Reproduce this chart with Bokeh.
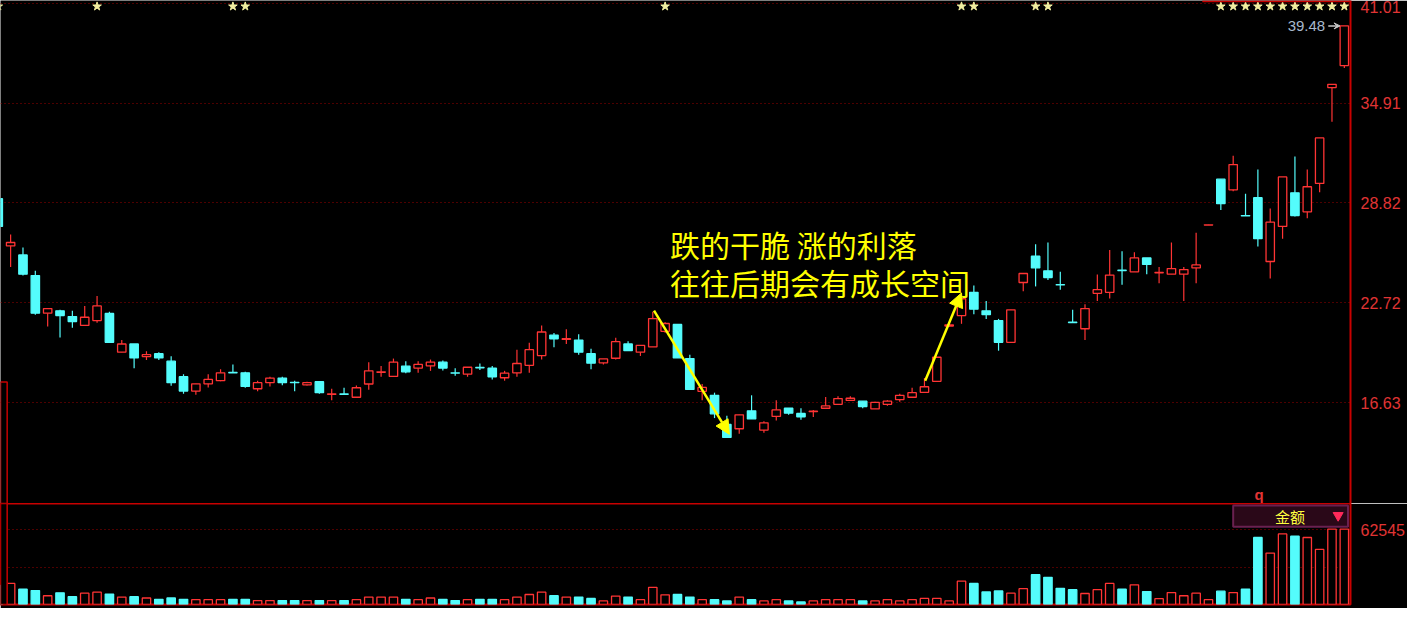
import numpy as np
from bokeh.plotting import figure
from bokeh.layouts import column
from bokeh.models import (FixedTicker, PrintfTickFormatter, Range1d, Arrow,
                          NormalHead, VeeHead, Label, ColumnDataSource)
from bokeh.embed import file_html
from bokeh.resources import INLINE

# ---------------- data ----------------
opens = [29.08, 26.20, 25.65, 24.39, 22.10, 22.24, 21.89, 21.35, 21.65, 22.08,
         19.72, 20.22, 19.45, 19.63, 19.17, 18.22, 17.35, 17.79, 17.98, 18.48,
         18.46, 17.49, 17.86, 18.14, 17.88, 17.73, 17.92, 17.15, 17.17, 16.97,
         17.78, 18.49, 18.24, 18.87, 18.75, 18.89, 19.11, 18.46, 18.38, 18.79,
         18.74, 18.16, 18.46, 18.92, 19.51, 20.76, 20.50, 20.46, 19.63, 19.07,
         19.35, 20.22, 19.72, 20.04, 20.99, 21.41, 19.33, 17.33, 17.09, 15.31,
         15.05, 16.14, 14.97, 15.80, 16.30, 15.98, 16.10, 16.30, 16.54, 16.78,
         16.73, 16.26, 16.54, 16.83, 16.97, 17.27, 17.94, 21.31, 21.95, 23.37,
         22.24, 21.65, 20.32, 23.97, 25.57, 24.68, 23.84, 21.55, 21.15, 23.31,
         23.37, 24.72, 24.62, 25.47, 24.56, 24.48, 24.48, 24.86, 27.47, 30.27,
         29.62, 28.05, 29.14, 25.25, 27.39, 29.44, 28.28, 30.01, 35.86, 37.20]
highs = [29.30, 26.90, 26.11, 24.68, 22.38, 22.30, 22.24, 22.54, 23.14, 22.19,
         20.46, 20.22, 19.77, 19.71, 19.47, 18.38, 17.79, 18.38, 18.68, 18.97,
         18.52, 17.98, 18.22, 18.22, 17.98, 17.92, 17.92, 17.49, 17.55, 17.69,
         19.11, 18.87, 19.33, 19.17, 19.17, 19.27, 19.21, 18.74, 18.80, 19.03,
         18.87, 18.58, 19.87, 20.30, 21.35, 20.89, 21.12, 20.82, 19.93, 19.31,
         20.60, 20.38, 20.14, 22.19, 21.55, 21.41, 19.57, 17.78, 17.25, 15.84,
         15.90, 17.09, 15.50, 16.79, 16.30, 16.30, 16.20, 16.99, 17.03, 17.03,
         16.73, 16.70, 16.79, 17.19, 17.55, 18.14, 19.41, 21.45, 23.20, 23.79,
         22.84, 21.75, 22.30, 24.52, 26.31, 26.41, 24.62, 22.30, 22.64, 24.46,
         25.95, 25.87, 25.81, 25.47, 24.92, 26.41, 24.92, 27.00, 27.49, 30.27,
         31.70, 29.38, 30.86, 28.49, 30.41, 31.66, 30.86, 32.79, 36.06, 39.62]
lows = [27.20, 24.92, 24.39, 22.01, 21.29, 20.62, 21.21, 21.35, 21.51, 20.32,
        19.72, 18.74, 19.25, 19.25, 17.67, 17.19, 17.13, 17.57, 17.94, 18.46,
        17.55, 17.33, 17.63, 17.70, 17.33, 17.69, 17.19, 16.79, 17.15, 16.97,
        17.43, 18.22, 18.24, 18.44, 18.46, 18.58, 18.60, 18.28, 18.22, 18.64,
        18.06, 17.98, 18.22, 18.46, 19.27, 20.02, 20.22, 19.57, 18.68, 18.97,
        19.27, 19.81, 19.49, 20.04, 20.91, 19.37, 17.45, 16.79, 15.70, 14.52,
        14.75, 15.65, 14.81, 15.56, 15.90, 15.60, 15.76, 16.30, 16.54, 16.78,
        16.30, 16.26, 16.45, 16.69, 16.97, 17.27, 17.94, 21.25, 21.45, 22.04,
        21.75, 19.81, 20.32, 23.43, 23.73, 24.12, 23.53, 21.53, 20.46, 22.84,
        22.99, 23.83, 24.62, 24.48, 23.93, 24.48, 22.84, 23.93, 27.47, 28.39,
        29.53, 28.03, 26.17, 24.22, 26.64, 28.00, 27.89, 29.47, 33.78, 37.05]
closes = [27.39, 26.41, 24.48, 22.10, 22.38, 21.95, 21.59, 21.85, 22.54, 20.32,
          20.22, 19.37, 19.57, 19.37, 17.86, 17.35, 17.79, 18.06, 18.46, 18.46,
          17.63, 17.86, 18.14, 17.86, 17.86, 17.86, 17.25, 17.17, 17.15, 17.55,
          18.58, 18.52, 19.11, 18.52, 18.97, 19.11, 18.75, 18.44, 18.80, 18.77,
          18.22, 18.44, 19.03, 19.87, 20.95, 20.54, 20.54, 19.72, 19.05, 19.31,
          20.36, 19.81, 20.14, 21.77, 21.47, 19.37, 17.45, 17.57, 15.96, 14.52,
          15.90, 15.65, 15.41, 16.20, 16.00, 15.78, 16.12, 16.44, 16.89, 16.91,
          16.40, 16.66, 16.73, 17.09, 17.25, 17.61, 19.41, 21.39, 22.98, 22.34,
          22.01, 20.32, 22.30, 24.52, 24.86, 24.27, 23.82, 21.53, 22.38, 23.53,
          24.42, 24.70, 25.47, 25.07, 24.58, 24.82, 24.76, 25.04, 27.49, 28.78,
          31.16, 28.03, 26.64, 27.65, 30.41, 28.05, 29.81, 32.79, 36.06, 39.62]
volumes = [16000, 17600, 12750, 11610, 7310, 9740, 6500, 9500, 10310, 8690,
           6250, 6500, 5440, 4300, 5440, 4300, 4060, 4060, 4060, 4300,
           4300, 3250, 3250, 3250, 3250, 3250, 3250, 3250, 3250, 4060,
           6250, 6250, 6250, 4300, 4060, 5440, 4300, 3250, 4060, 4300,
           4300, 4060, 6250, 8360, 10310, 7310, 6250, 6250, 5120, 3000,
           7060, 6250, 4060, 14370, 8120, 8360, 6250, 4060, 4060, 3000,
           6250, 4060, 3000, 4060, 3000, 2190, 3000, 4060, 4060, 4060,
           3000, 3000, 4060, 3000, 4060, 5120, 5120, 3000, 19490, 17620,
           10560, 11370, 9500, 13240, 24930, 22740, 13560, 12420, 9180, 12420,
           17620, 12750, 16480, 10800, 4870, 9990, 7310, 9500, 4060, 11120,
           9990, 12750, 56030, 43040, 59030, 57080, 56030, 46040, 63090, 63090]
price_ticks = [16.63, 22.72, 28.82, 34.91, 41.01]
vol_ticks = [31272, 62545]
vol_label_ticks = [62545]
star_idx = [0, 8, 19, 20, 54, 78, 79, 84, 85, 99, 100, 101, 102, 103, 104,
            105, 106, 107, 108, 109]
last_price_text = "39.48"
note_lines = ["跌的干脆  涨的利落", "往往后期会有成长空间"]
note_pos = [(54.4, 26.31), (54.4, 23.99)]
arrow_down = (53.1, 22.26, 59.2, 14.71)
arrow_up = (75.06, 17.98, 78.0, 23.33)
panel_title = "金额"
panel_marker = "q"

# ---------------- styles ----------------
RED = "#ff3434"
CYAN = "#54fcfc"
GRID = "#9a0000"
AXIS = "#c80000"
LBL = "#e03434"
YEL = "#ffff00"

idx = np.arange(len(opens))
o = np.array(opens); c = np.array(closes)
up = c >= o
line_col = [RED if u else CYAN for u in up]
fill_col = ["black" if u else CYAN for u in up]
src = ColumnDataSource(dict(x=idx, top=np.maximum(o, c), bottom=np.minimum(o, c),
                            high=highs, low=lows, vol=volumes,
                            lc=line_col, fc=fill_col))

XR = Range1d(0.18, 109.5)

p = figure(width=1407, height=503, x_range=XR, y_range=Range1d(10.49, 41.17),
           output_backend="svg", toolbar_location=None, y_axis_location="right",
           background_fill_color="black", border_fill_color="black",
           min_border_left=0, min_border_right=55, min_border_top=0,
           min_border_bottom=0)
p.outline_line_color = None
p.xaxis.visible = False
p.xgrid.visible = False
p.ygrid.ticker = FixedTicker(ticks=price_ticks)
p.ygrid.grid_line_color = GRID
p.ygrid.grid_line_dash = "1 3"
p.yaxis.ticker = FixedTicker(ticks=price_ticks)
p.yaxis.formatter = PrintfTickFormatter(format="%.2f")
p.yaxis.axis_line_color = AXIS
p.yaxis.axis_line_width = 2
p.yaxis.major_tick_line_color = None
p.yaxis.minor_tick_line_color = None
p.yaxis.major_label_text_color = LBL
p.yaxis.major_label_text_font = "Liberation Sans"
p.yaxis.major_label_text_font_size = "16px"
p.yaxis.major_label_standoff = 4

p.segment(x0="x", y0="low", x1="x", y1="high", line_color="lc", line_width=1.2, source=src)
p.vbar(x="x", width=0.68, top="top", bottom="bottom", fill_color="fc",
       line_color="lc", line_width=1.3, source=src)

# stars row
p.scatter(x=star_idx, y=[40.81] * len(star_idx), marker="star", size=9,
          fill_color="#f2eea0", line_color="#f2eea0")
# top-right red line
p.segment(x0=[97.5], y0=[41.13], x1=[109.5], y1=[41.13], line_color=AXIS, line_width=2)
# left box
p.quad(left=[0.18], right=[0.72], bottom=[10.49], top=[17.90], fill_color="black",
       line_color=AXIS, line_width=1.5)

for (tx, ty), t in zip(note_pos, note_lines):
    p.add_layout(Label(x=tx, y=ty, text=t, text_color=YEL, text_font_size="30px",
                       text_font="Noto Sans CJK SC", text_baseline="middle"))

for (x0, y0, x1, y1) in (arrow_down, arrow_up):
    p.add_layout(Arrow(end=NormalHead(size=14, fill_color=YEL, line_color=YEL),
                       x_start=x0, y_start=y0, x_end=x1, y_end=y1,
                       line_color=YEL, line_width=2.5))

p.add_layout(Label(x=107.45, y=closes[-1], text=last_price_text, text_align="right",
                   text_baseline="middle", text_color="#a8b8cc", text_font_size="15px",
                   text_font="Liberation Sans"))
p.add_layout(Arrow(end=VeeHead(size=6, fill_color="#c8c8c8", line_color="#c8c8c8"),
                   x_start=107.7, y_start=closes[-1], x_end=108.65, y_end=closes[-1],
                   line_color="#c8c8c8", line_width=1.5))
p.add_layout(Label(x=102.1, y=11.03, text=panel_marker, text_align="center",
                   text_baseline="middle", text_color=LBL, text_font_size="15px",
                   text_font_style="bold", text_font="Liberation Sans"))

# ---------------- volume panel ----------------
v = figure(width=1407, height=105, x_range=XR, y_range=Range1d(0, 84480),
           output_backend="svg", toolbar_location=None, y_axis_location="right",
           background_fill_color="black", border_fill_color="black",
           min_border_left=0, min_border_right=55, min_border_top=0,
           min_border_bottom=4)
v.outline_line_color = AXIS
v.outline_line_width = 2
v.xaxis.visible = False
v.xgrid.visible = False
v.ygrid.ticker = FixedTicker(ticks=vol_ticks)
v.ygrid.grid_line_color = GRID
v.ygrid.grid_line_dash = "1 3"
v.yaxis.ticker = FixedTicker(ticks=vol_label_ticks)
v.yaxis.formatter = PrintfTickFormatter(format="%d")
v.yaxis.axis_line_color = None
v.yaxis.major_tick_line_color = None
v.yaxis.minor_tick_line_color = None
v.yaxis.major_label_text_color = LBL
v.yaxis.major_label_text_font = "Liberation Sans"
v.yaxis.major_label_text_font_size = "16px"
v.yaxis.major_label_standoff = 4

v.vbar(x="x", width=0.68, top="vol", bottom=0, fill_color="fc", line_color="lc",
       line_width=1.3, source=src)
v.quad(left=[0.18], right=[0.72], bottom=[0], top=[84480], fill_color="black",
       line_color=AXIS, line_width=1.5)
v.quad(left=[100.0], right=[109.3], bottom=[64960], top=[82800], fill_color="#2a0818",
       line_color="#6a2050", line_width=2)
v.add_layout(Label(x=104.6, y=73900, text=panel_title, text_align="center",
                   text_baseline="middle", text_color="#ffff40", text_font_size="15px",
                   text_font="Noto Sans CJK SC"))
v.scatter(x=[108.5], y=[74500], marker="inverted_triangle", size=10,
          fill_color="#ff2a5a", line_color="#ff2a5a")

layout = column(p, v, spacing=0)
html = file_html(layout, INLINE)
html = html.replace("<body>", '<body style="background:#000000">', 1)
open("out.html", "w").write(html)
